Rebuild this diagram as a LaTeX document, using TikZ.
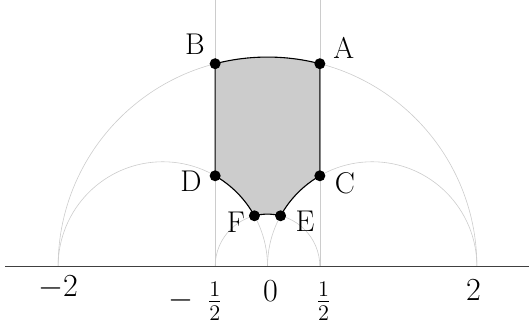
\documentclass[tikz,border=0pt]{standalone}
\begin{document}
\begin{tikzpicture}[x=104.7pt,y=104.7pt,
  guide/.style={draw=black!20,line width=0.6pt},
  axisline/.style={draw=black!75,line width=1.6pt},
  region/.style={fill=black!20,draw=black,line width=1.1pt,line join=round},
  dot/.style={circle,fill=black,inner sep=0pt,minimum size=11pt},
  ptlabel/.style={font=\fontsize{20}{24}\selectfont,inner sep=0pt,scale=1.5},
  ticklabel/.style={font=\fontsize{20}{24}\selectfont,inner sep=0pt,scale=1.55}]
\useasboundingbox (-2.555,-0.597) rectangle (2.4976,2.545);
% guide curves
\draw[guide] (2,0) arc[start angle=0,end angle=180,radius=2];
\draw[guide] (0,0) arc[start angle=0,end angle=180,radius=1];
\draw[guide] (2,0) arc[start angle=0,end angle=180,radius=1];
\draw[guide] (0.5,0) arc[start angle=0,end angle=180,radius=0.5];
\draw[guide] (-0.5,0) -- (-0.5,2.545);
\draw[guide] (0.5,0) -- (0.5,2.545);
% axis
\draw[axisline] (-2.507,0) -- (2.4976,0);
% vertices
\coordinate (pA) at (0.5,{sqrt(15)/2});
\coordinate (pB) at (-0.5,{sqrt(15)/2});
\coordinate (pC) at (0.5,{sqrt(3)/2});
\coordinate (pD) at (-0.5,{sqrt(3)/2});
\coordinate (pE) at (0.125,{sqrt(15)/8});
\coordinate (pF) at (-0.125,{sqrt(15)/8});
% region
\path[region] (pB) -- (pD)
  arc[start angle=60,end angle=28.955,radius=1]
  arc[start angle=104.478,end angle=75.522,radius=0.5]
  arc[start angle=151.045,end angle=120,radius=1]
  -- (pA)
  arc[start angle=75.522,end angle=104.478,radius=2] -- cycle;
% dots
\node[dot] (A) at (pA) {};
\node[dot] (B) at (pB) {};
\node[dot] (C) at (pC) {};
\node[dot] (D) at (pD) {};
\node[dot] (E) at (pE) {};
\node[dot] (F) at (pF) {};
% labels
\node[ptlabel] (lA) at (0.728,2.092) {A};
\node[ptlabel] (lB) at (-0.692,2.120) {B};
\node[ptlabel] (lC) at (0.740,0.798) {C};
\node[ptlabel] (lD) at (-0.731,0.810) {D};
\node[ptlabel] (lE) at (0.358,0.435) {E};
\node[ptlabel] (lF) at (-0.301,0.420) {F};
% tick labels
\node[ticklabel] (tm2) at (-2.0,-0.196) {$-2$};
\node[ticklabel] (tmh) at (-0.69,-0.33) {$-\hspace{0.45em}\frac{1}{2}$};
\node[ticklabel] (t0) at (0.029,-0.234) {$0$};
\node[ticklabel] (th) at (0.535,-0.33) {$\frac{1}{2}$};
\node[ticklabel] (t2) at (1.968,-0.224) {$2$};
\end{tikzpicture}
\end{document}
